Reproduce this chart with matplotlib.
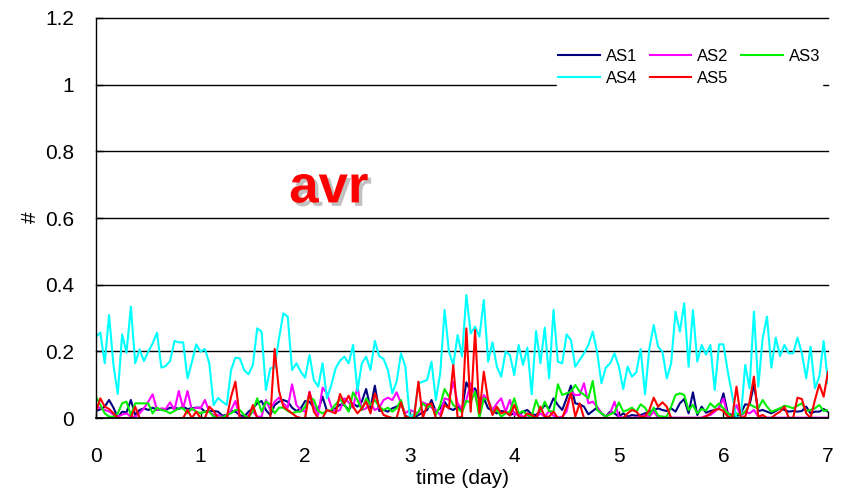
import numpy as np
import matplotlib
matplotlib.use("Agg")
import matplotlib.pyplot as plt
import matplotlib.patheffects as pe

plt.rcParams['font.family'] = ['Liberation Sans', 'DejaVu Sans']

# hourly samples over seven days
hours = np.arange(169)
days = hours / 24.0

as1 = [0.021, 0.026, 0.034, 0.054, 0.031, 0.001, 0.019, 0.017, 0.054, 0.009, 0.024, 0.029, 0.024, 0.031,
       0.024, 0.027, 0.024, 0.031, 0.031, 0.027, 0.034, 0.027, 0.029, 0.031, 0.031, 0.019, 0.021, 0.021,
       0.019, 0.007, 0.009, 0.021, 0.019, 0.009, 0.004, 0.019, 0.029, 0.044, 0.051, 0.024, 0.009, 0.039,
       0.049, 0.054, 0.049, 0.031, 0.021, 0.029, 0.051, 0.049, 0.031, 0.024, 0.064, 0.021, 0.021, 0.029,
       0.040, 0.039, 0.024, 0.044, 0.034, 0.049, 0.087, 0.029, 0.097, 0.021, 0.024, 0.019, 0.029, 0.034,
       0.044, 0.007, 0.001, 0.001, 0.009, 0.017, 0.024, 0.054, 0.019, 0.029, 0.049, 0.029, 0.024, 0.034,
       0.024, 0.107, 0.079, 0.089, 0.054, 0.059, 0.029, 0.021, 0.014, 0.021, 0.019, 0.009, 0.014, 0.009,
       0.019, 0.024, 0.011, 0.009, 0.021, 0.039, 0.029, 0.059, 0.039, 0.024, 0.059, 0.097, 0.044, 0.041,
       0.034, 0.011, 0.021, 0.031, 0.014, 0.004, 0.019, 0.014, 0.004, 0.014, 0.004, 0.009, 0.007, 0.009,
       0.014, 0.019, 0.024, 0.029, 0.024, 0.021, 0.029, 0.019, 0.044, 0.057, 0.014, 0.077, 0.009, 0.034,
       0.016, 0.021, 0.024, 0.029, 0.074, 0.014, 0.009, 0.004, 0.014, 0.041, 0.039, 0.101, 0.021, 0.024,
       0.019, 0.014, 0.021, 0.029, 0.024, 0.019, 0.021, 0.019, 0.021, 0.034, 0.014, 0.019, 0.019, 0.027,
       0.019]

as2 = [0.031, 0.031, 0.024, 0.020, 0.010, 0.004, 0.010, 0.014, 0.004, 0.004, 0.014, 0.029, 0.049, 0.071,
       0.024, 0.029, 0.027, 0.047, 0.024, 0.081, 0.029, 0.081, 0.024, 0.031, 0.029, 0.054, 0.019, 0.009,
       0.009, 0.004, 0.001, 0.024, 0.051, 0.001, 0.001, 0.009, 0.019, 0.004, 0.004, 0.054, 0.024, 0.049,
       0.061, 0.044, 0.031, 0.101, 0.039, 0.024, 0.019, 0.079, 0.034, 0.009, 0.091, 0.074, 0.034, 0.019,
       0.024, 0.059, 0.047, 0.031, 0.094, 0.024, 0.029, 0.044, 0.024, 0.031, 0.054, 0.061, 0.054, 0.077,
       0.044, 0.014, 0.024, 0.019, 0.014, 0.047, 0.041, 0.031, 0.024, 0.009, 0.059, 0.054, 0.109, 0.044,
       0.027, 0.054, 0.104, 0.069, 0.019, 0.069, 0.054, 0.024, 0.044, 0.059, 0.019, 0.054, 0.009, 0.014,
       0.004, 0.001, 0.007, 0.001, 0.014, 0.004, 0.021, 0.007, 0.001, 0.004, 0.019, 0.079, 0.069, 0.069,
       0.104, 0.044, 0.049, 0.034, 0.014, 0.004, 0.014, 0.049, 0.004, 0.001, 0.001, 0.001, 0.001, 0.004,
       0.009, 0.004, 0.019, 0.001, 0.004, 0.001, 0.001, 0.001, 0.001, 0.001, 0.001, 0.001, 0.001, 0.001,
       0.007, 0.009, 0.019, 0.031, 0.059, 0.004, 0.004, 0.039, 0.004, 0.019, 0.014, 0.024, 0.004, 0.001,
       0.001, 0.001, 0.001, 0.001, 0.001, 0.001, 0.001, 0.001, 0.001, 0.001, 0.001, 0.001, 0.001, 0.001,
       0.001]

as3 = [0.064, 0.039, 0.014, 0.004, 0.004, 0.014, 0.044, 0.049, 0.009, 0.044, 0.044, 0.044, 0.044, 0.014,
       0.031, 0.024, 0.021, 0.014, 0.021, 0.029, 0.029, 0.014, 0.029, 0.019, 0.014, 0.019, 0.019, 0.004,
       0.001, 0.001, 0.009, 0.014, 0.024, 0.024, 0.009, 0.001, 0.021, 0.059, 0.019, 0.049, 0.041, 0.014,
       0.031, 0.031, 0.021, 0.014, 0.019, 0.019, 0.034, 0.064, 0.054, 0.021, 0.014, 0.021, 0.024, 0.041,
       0.057, 0.039, 0.019, 0.077, 0.054, 0.024, 0.059, 0.039, 0.054, 0.034, 0.024, 0.031, 0.019, 0.029,
       0.054, 0.004, 0.001, 0.004, 0.019, 0.044, 0.031, 0.039, 0.009, 0.039, 0.087, 0.064, 0.039, 0.029,
       0.017, 0.051, 0.047, 0.079, 0.000, 0.059, 0.054, 0.014, 0.024, 0.004, 0.014, 0.019, 0.059, 0.014,
       0.021, 0.009, 0.004, 0.054, 0.019, 0.049, 0.021, 0.019, 0.101, 0.069, 0.074, 0.079, 0.099, 0.079,
       0.070, 0.059, 0.111, 0.024, 0.014, 0.004, 0.011, 0.017, 0.047, 0.019, 0.024, 0.031, 0.019, 0.041,
       0.031, 0.009, 0.031, 0.007, 0.004, 0.004, 0.034, 0.069, 0.074, 0.069, 0.024, 0.039, 0.014, 0.027,
       0.022, 0.044, 0.031, 0.044, 0.029, 0.014, 0.004, 0.014, 0.009, 0.019, 0.041, 0.034, 0.029, 0.054,
       0.034, 0.019, 0.024, 0.029, 0.037, 0.034, 0.029, 0.037, 0.044, 0.021, 0.024, 0.029, 0.039, 0.021,
       0.024]

as4 = [0.244, 0.256, 0.164, 0.309, 0.159, 0.072, 0.251, 0.196, 0.334, 0.164, 0.206, 0.171, 0.199, 0.224,
       0.256, 0.151, 0.156, 0.171, 0.231, 0.227, 0.227, 0.119, 0.167, 0.221, 0.199, 0.207, 0.164, 0.039,
       0.060, 0.049, 0.039, 0.144, 0.181, 0.179, 0.144, 0.131, 0.159, 0.269, 0.259, 0.084, 0.149, 0.151,
       0.239, 0.314, 0.304, 0.144, 0.164, 0.139, 0.121, 0.189, 0.114, 0.094, 0.164, 0.059, 0.099, 0.149,
       0.172, 0.184, 0.164, 0.219, 0.081, 0.164, 0.184, 0.144, 0.231, 0.186, 0.177, 0.144, 0.074, 0.109,
       0.194, 0.154, 0.004, 0.010, 0.104, 0.109, 0.114, 0.169, 0.054, 0.134, 0.324, 0.199, 0.159, 0.249,
       0.185, 0.369, 0.254, 0.274, 0.244, 0.354, 0.169, 0.227, 0.154, 0.124, 0.199, 0.189, 0.129, 0.219,
       0.159, 0.211, 0.071, 0.261, 0.164, 0.271, 0.119, 0.324, 0.169, 0.164, 0.251, 0.234, 0.154, 0.174,
       0.194, 0.219, 0.259, 0.199, 0.104, 0.151, 0.164, 0.194, 0.154, 0.087, 0.154, 0.124, 0.137, 0.207,
       0.071, 0.209, 0.279, 0.214, 0.199, 0.119, 0.164, 0.319, 0.259, 0.344, 0.154, 0.324, 0.169, 0.219,
       0.190, 0.219, 0.084, 0.221, 0.221, 0.139, 0.069, 0.000, 0.004, 0.159, 0.089, 0.319, 0.094, 0.239,
       0.304, 0.151, 0.241, 0.186, 0.219, 0.194, 0.194, 0.241, 0.194, 0.119, 0.214, 0.089, 0.124, 0.231,
       0.104]

as5 = [0.020, 0.059, 0.034, 0.027, 0.014, 0.000, 0.000, 0.000, 0.000, 0.034, 0.000, 0.000, 0.000, 0.000,
       0.000, 0.000, 0.000, 0.000, 0.000, 0.000, 0.000, 0.024, 0.000, 0.019, 0.000, 0.000, 0.034, 0.021,
       0.000, 0.000, 0.000, 0.064, 0.109, 0.000, 0.000, 0.000, 0.039, 0.000, 0.000, 0.000, 0.000, 0.207,
       0.081, 0.034, 0.024, 0.014, 0.004, 0.000, 0.000, 0.077, 0.019, 0.000, 0.000, 0.024, 0.019, 0.014,
       0.072, 0.044, 0.067, 0.034, 0.014, 0.029, 0.049, 0.014, 0.074, 0.034, 0.009, 0.004, 0.000, 0.000,
       0.047, 0.004, 0.000, 0.000, 0.109, 0.000, 0.039, 0.044, 0.000, 0.000, 0.039, 0.029, 0.159, 0.000,
       0.004, 0.269, 0.019, 0.264, 0.014, 0.139, 0.054, 0.009, 0.034, 0.014, 0.019, 0.007, 0.039, 0.004,
       0.000, 0.014, 0.009, 0.000, 0.034, 0.004, 0.004, 0.019, 0.000, 0.000, 0.034, 0.074, 0.004, 0.044,
       0.000, 0.000, 0.000, 0.000, 0.000, 0.000, 0.000, 0.000, 0.000, 0.000, 0.014, 0.024, 0.019, 0.004,
       0.004, 0.024, 0.061, 0.034, 0.047, 0.034, 0.000, 0.000, 0.000, 0.000, 0.000, 0.000, 0.000, 0.000,
       0.004, 0.014, 0.024, 0.027, 0.021, 0.004, 0.000, 0.094, 0.000, 0.004, 0.049, 0.124, 0.004, 0.009,
       0.000, 0.000, 0.011, 0.019, 0.034, 0.000, 0.000, 0.061, 0.057, 0.014, 0.000, 0.054, 0.101, 0.064,
       0.139]

series_names = ["AS1", "AS2", "AS3", "AS4", "AS5"]
series_values = [as1, as2, as3, as4, as5]
series_colors = ["#000080", "#ff00ff", "#00ee00", "#00ffff", "#ff0000"]

x_ticks = [0, 1, 2, 3, 4, 5, 6, 7]
y_ticks = [0, 0.2, 0.4, 0.6, 0.8, 1, 1.2]
y_tick_labels = ["0", "0.2", "0.4", "0.6", "0.8", "1", "1.2"]

W, H = 847, 493
fig = plt.figure(figsize=(W / 100, H / 100), dpi=100)
ax = fig.add_axes([96 / W, 1 - 418 / H, 732 / W, 400 / H])

lines = {}
for name, vals, col in zip(series_names, series_values, series_colors):
    (ln,) = ax.plot(days, vals, color=col, lw=1.5, label=name, clip_on=True)
    lines[name] = ln

ax.set_xlim(0, 7)
ax.set_ylim(0, 1.2)
ax.set_xticks(x_ticks)
ax.set_xticklabels([str(t) for t in x_ticks])
ax.set_yticks(y_ticks)
ax.set_yticklabels(y_tick_labels)
ax.tick_params(axis="both", direction="in", length=5, width=1, labelsize=15, colors="black")
ax.tick_params(axis="x", pad=21)
ax.tick_params(axis="y", pad=16)

for y in y_ticks[1:]:
    ax.axhline(y, color="black", lw=1.0, zorder=0.5, clip_on=False)

ax.spines["top"].set_visible(False)
ax.spines["right"].set_visible(False)
ax.spines["left"].set_linewidth(1.0)
ax.spines["bottom"].set_linewidth(1.3)

fig.text(462 / W, 1 - 479 / H, "time (day)", ha="center", va="center", fontsize=15)
fig.text(30 / W, 1 - 217 / H, "#", ha="center", va="center", fontsize=15, rotation=90)

ax.text(0.318, 0.574, "avr", transform=ax.transAxes, ha="center", va="center",
        fontsize=38, fontweight="bold", color="#ff0000",
        path_effects=[pe.SimplePatchShadow(offset=(2.5, -2.5), shadow_rgbFace="#999999", alpha=0.6),
                      pe.Normal()])

order = ["AS1", "AS4", "AS2", "AS5", "AS3"]
leg = ax.legend([lines[n] for n in order], order, ncol=3, loc="upper right",
                bbox_to_anchor=(1.003, 0.948), frameon=True, fontsize=12,
                handlelength=2.5, handletextpad=0.35, columnspacing=0.75,
                labelspacing=0.42, borderpad=0.1, fancybox=False, framealpha=1.0)
leg.get_frame().set_edgecolor("white")
leg.get_frame().set_facecolor("white")

fig.savefig("out.png", dpi=100)
